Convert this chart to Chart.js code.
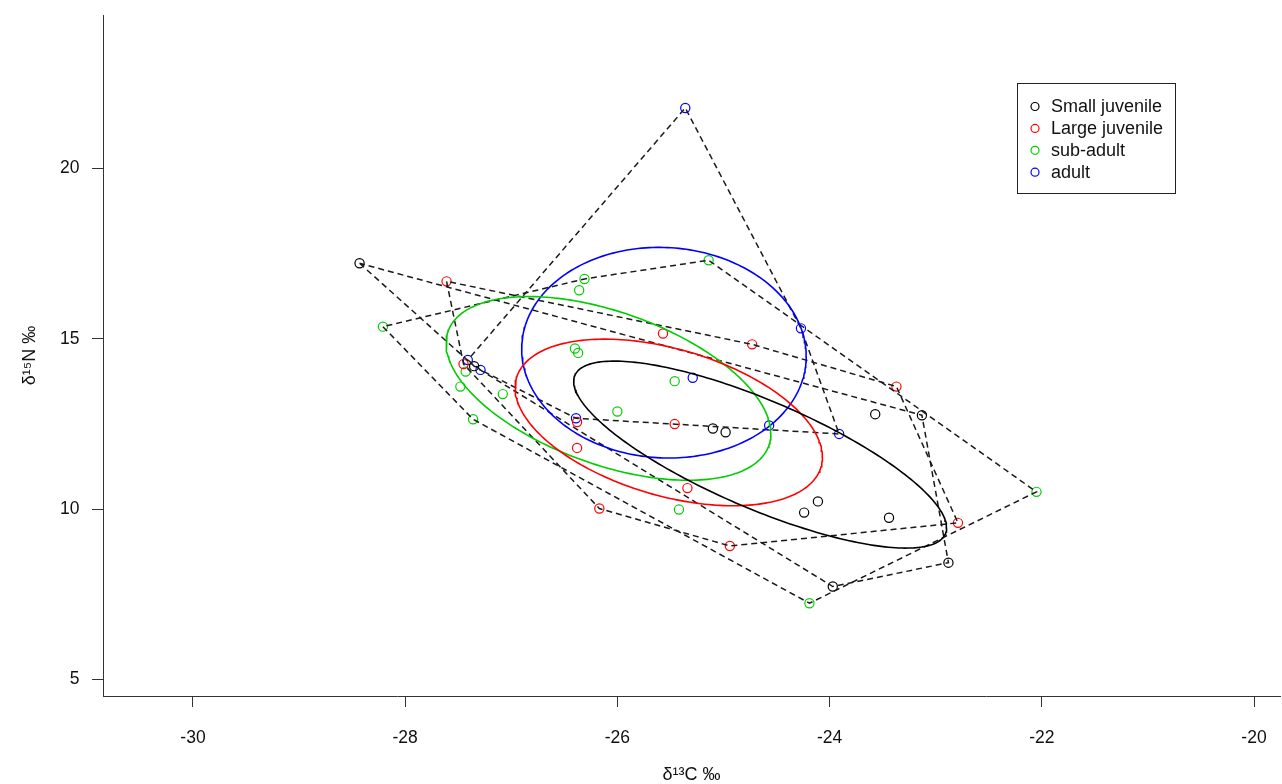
<!DOCTYPE html>
<html><head><meta charset="utf-8">
<script src="https://cdn.jsdelivr.net/npm/chart.js@4.4.1/dist/chart.umd.min.js"></script>
<style>html,body{margin:0;padding:0;background:#fff}canvas{display:block}</style>
</head><body>
<canvas id="c" width="1282" height="784"></canvas>
<script>
// ---- data ----
const groupLabels = ['Small juvenile', 'Large juvenile', 'sub-adult', 'adult'];
const groupColors = ['#000000', '#FF0000', '#00CD00', '#0000FF'];

const smallJuvC = [-28.43, -27.35, -25.10, -24.98, -23.57, -23.13, -24.11, -24.24, -23.44, -22.88, -23.97];
const smallJuvN = [17.22, 14.20, 12.37, 12.26, 12.79, 12.76, 10.23, 9.90, 9.75, 8.43, 7.73];

const largeJuvC = [-27.61, -27.45, -25.57, -24.73, -23.37, -26.38, -25.46, -26.38, -25.34, -26.17, -24.94, -22.79];
const largeJuvN = [16.69, 14.26, 15.16, 14.84, 13.60, 12.56, 12.50, 11.80, 10.62, 10.02, 8.92, 9.60];

const subAdultC = [-28.21, -27.43, -27.48, -27.08, -27.36, -25.14, -26.31, -26.36, -26.40, -26.37, -25.46, -26.00, -25.42, -22.05, -24.19];
const subAdultN = [15.36, 14.04, 13.60, 13.38, 12.64, 17.31, 16.76, 16.43, 14.72, 14.59, 13.76, 12.87, 9.99, 10.51, 7.24];

const adultC = [-27.41, -27.29, -25.36, -24.27, -25.29, -26.39, -24.57, -23.91];
const adultN = [14.38, 14.09, 21.78, 15.31, 13.86, 12.67, 12.46, 12.21];

const xTicks = [-30, -28, -26, -24, -22, -20];
const yTicks = [5, 10, 15, 20];
const xTitle = 'δ¹³C ‰';
const yTitle = 'δ¹⁵N ‰';

// ---- derived geometry (computed from the data, like SIBER) ----
function toPts(xs, ys) { return xs.map((x, i) => ({ x: x, y: ys[i] })); }

function convexHull(xs, ys) {
  const p = toPts(xs, ys).sort((a, b) => a.x - b.x || a.y - b.y);
  const cross = (o, a, b) => (a.x - o.x) * (b.y - o.y) - (a.y - o.y) * (b.x - o.x);
  const lower = [], upper = [];
  for (const q of p) { while (lower.length >= 2 && cross(lower[lower.length - 2], lower[lower.length - 1], q) <= 0) lower.pop(); lower.push(q); }
  for (let i = p.length - 1; i >= 0; i--) { const q = p[i]; while (upper.length >= 2 && cross(upper[upper.length - 2], upper[upper.length - 1], q) <= 0) upper.pop(); upper.push(q); }
  upper.pop(); lower.pop();
  const h = lower.concat(upper);
  h.push(h[0]);
  return h;
}

function standardEllipse(xs, ys, steps) {
  const n = xs.length;
  const mx = xs.reduce((a, b) => a + b, 0) / n;
  const my = ys.reduce((a, b) => a + b, 0) / n;
  let sxx = 0, syy = 0, sxy = 0;
  for (let i = 0; i < n; i++) { const dx = xs[i] - mx, dy = ys[i] - my; sxx += dx * dx; syy += dy * dy; sxy += dx * dy; }
  sxx /= (n - 1); syy /= (n - 1); sxy /= (n - 1);
  const a = Math.sqrt(sxx), b = sxy / a, c = Math.sqrt(syy - b * b);
  const out = [];
  for (let k = 0; k <= steps; k++) {
    const t = 2 * Math.PI * k / steps;
    out.push({ x: mx + a * Math.cos(t), y: my + b * Math.cos(t) + c * Math.sin(t) });
  }
  return out;
}

const groups = [[smallJuvC, smallJuvN], [largeJuvC, largeJuvN], [subAdultC, subAdultN], [adultC, adultN]];

const datasets = [];
groups.forEach((g, i) => {
  datasets.push({
    label: groupLabels[i], data: toPts(g[0], g[1]), showLine: false,
    pointStyle: 'circle', pointRadius: 4.6, pointHoverRadius: 4.6, pointBorderWidth: 1.2,
    pointBorderColor: groupColors[i], pointBackgroundColor: 'rgba(0,0,0,0)', order: 3
  });
  datasets.push({
    label: groupLabels[i] + ' hull', data: convexHull(g[0], g[1]), showLine: true,
    borderColor: '#1a1a1a', borderWidth: 1.5, borderDash: [6, 4], pointRadius: 0, tension: 0, fill: false, order: 2
  });
  datasets.push({
    label: groupLabels[i] + ' ellipse', data: standardEllipse(g[0], g[1], 240), showLine: true,
    borderColor: groupColors[i], borderWidth: 1.6, pointRadius: 0, tension: 0, fill: false, order: 1
  });
});

const FONT = '"Liberation Sans", Arial, Helvetica, sans-serif';

const boxLegend = {
  id: 'boxLegend',
  afterDraw(chart) {
    const ctx = chart.ctx;
    ctx.save();
    ctx.strokeStyle = '#222'; ctx.lineWidth = 1;
    ctx.strokeRect(1017.5, 83.5, 158, 110);
    ctx.font = '18px ' + FONT;
    ctx.textBaseline = 'middle'; ctx.textAlign = 'left';
    groupLabels.forEach((lab, i) => {
      const y = 106.5 + i * 21.9;
      ctx.beginPath(); ctx.arc(1035, y, 4, 0, 2 * Math.PI);
      ctx.strokeStyle = groupColors[i]; ctx.lineWidth = 1.2; ctx.stroke();
      ctx.fillStyle = '#111'; ctx.fillText(lab, 1051, y + 1);
    });
    ctx.restore();
  }
};

new Chart(document.getElementById('c'), {
  type: 'scatter',
  data: { datasets: datasets },
  options: {
    responsive: false, animation: false, devicePixelRatio: 1,
    layout: { autoPadding: false, padding: { top: 15, right: 2, left: 0, bottom: 0 } },
    plugins: { legend: { display: false }, tooltip: { enabled: false } },
    scales: {
      x: {
        type: 'linear', min: -30.848, max: -19.755,
        afterBuildTicks: s => { s.ticks = xTicks.map(v => ({ value: v })); },
        afterFit: s => { s.height = 88; s.paddingLeft = 0; s.paddingRight = 0; },
        grid: { drawOnChartArea: false, drawTicks: true, tickLength: 11, color: '#333', tickColor: '#333' },
        border: { display: true, color: '#333', width: 1 },
        ticks: { font: { size: 17.5, family: FONT }, color: '#111', padding: 20.5, maxRotation: 0, autoSkip: false },
        title: { display: true, text: xTitle, font: { size: 18, family: FONT, lineHeight: 1 }, color: '#111', padding: { top: 0, bottom: -0.5 } }
      },
      y: {
        type: 'linear', min: 4.516, max: 24.51,
        afterBuildTicks: s => { s.ticks = yTicks.map(v => ({ value: v })); },
        afterFit: s => { s.width = 103; s.paddingTop = 0; s.paddingBottom = 0; },
        grid: { drawOnChartArea: false, drawTicks: true, tickLength: 11, color: '#333', tickColor: '#333' },
        border: { display: true, color: '#333', width: 1 },
        ticks: { font: { size: 17.5, family: FONT }, color: '#111', padding: 12.5, autoSkip: false },
        title: { display: true, text: yTitle, font: { size: 18, family: FONT }, color: '#111', padding: { top: 19, bottom: 0 } }
      }
    }
  },
  plugins: [boxLegend]
});
</script>
</body></html>
